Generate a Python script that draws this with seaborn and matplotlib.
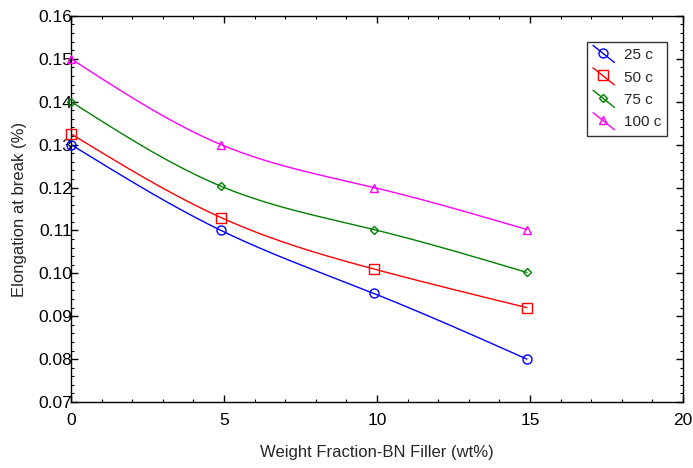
import numpy as np
import pandas as pd
import matplotlib
matplotlib.use("Agg")
import matplotlib.pyplot as plt
from matplotlib.lines import Line2D
from matplotlib.legend_handler import HandlerBase
from matplotlib.ticker import MultipleLocator, FormatStrFormatter
import seaborn as sns

# Elongation at break vs. BN filler loading, for four temperatures
filler_wt = [0, 4.9, 9.9, 14.9]
elong_25c = [0.130, 0.110, 0.0953, 0.080]
elong_50c = [0.1325, 0.113, 0.101, 0.092]
elong_75c = [0.140, 0.1203, 0.1102, 0.1002]
elong_100c = [0.150, 0.130, 0.120, 0.1102]

series_names = ["25 c", "50 c", "75 c", "100 c"]
series_values = [elong_25c, elong_50c, elong_75c, elong_100c]
colors = ["#0000ff", "#ff0000", "#008000", "#ff00ff"]
markers = ["o", "s", "D", "^"]
marker_sizes = [6.5, 7, 4, 6]

x_ticks = [0, 5, 10, 15, 20]
y_ticks = [0.07, 0.08, 0.09, 0.10, 0.11, 0.12, 0.13, 0.14, 0.15, 0.16]


def natural_spline(x, y, n=200):
    """Natural cubic spline through (x, y), evaluated on a fine grid."""
    x = np.asarray(x, float)
    y = np.asarray(y, float)
    k = len(x)
    h = np.diff(x)
    A = np.zeros((k, k))
    b = np.zeros(k)
    A[0, 0] = A[-1, -1] = 1.0
    for i in range(1, k - 1):
        A[i, i - 1] = h[i - 1]
        A[i, i] = 2 * (h[i - 1] + h[i])
        A[i, i + 1] = h[i]
        b[i] = 6 * ((y[i + 1] - y[i]) / h[i] - (y[i] - y[i - 1]) / h[i - 1])
    M = np.linalg.solve(A, b)
    xs = np.linspace(x[0], x[-1], n)
    idx = np.clip(np.searchsorted(x, xs) - 1, 0, k - 2)
    x0, x1 = x[idx], x[idx + 1]
    hh = x1 - x0
    t0, t1 = x1 - xs, xs - x0
    ys = (M[idx] * t0 ** 3 / (6 * hh) + M[idx + 1] * t1 ** 3 / (6 * hh)
          + (y[idx] / hh - M[idx] * hh / 6) * t0
          + (y[idx + 1] / hh - M[idx + 1] * hh / 6) * t1)
    return xs, ys


points = pd.DataFrame(
    [(xv, yv, name) for name, vals in zip(series_names, series_values)
     for xv, yv in zip(filler_wt, vals)],
    columns=["filler", "elongation", "series"],
)
curve_rows = []
for name, vals in zip(series_names, series_values):
    xs, ys = natural_spline(filler_wt, vals)
    curve_rows += [(a, c, name) for a, c in zip(xs, ys)]
curves = pd.DataFrame(curve_rows, columns=["filler", "elongation", "series"])

sns.set_theme(style="white")
plt.rcParams["font.family"] = ["Liberation Sans", "DejaVu Sans"]

fig = plt.figure(figsize=(6.93, 4.68), dpi=100)
ax = fig.add_axes([0.1025, 0.141, 0.883, 0.825])

palette = dict(zip(series_names, colors))
sns.lineplot(data=curves, x="filler", y="elongation", hue="series",
             palette=palette, linewidth=1.0, legend=False, ax=ax,
             estimator=None, sort=False, zorder=2)
for name, col, mk, ms in zip(series_names, colors, markers, marker_sizes):
    sub = points[points["series"] == name]
    ax.plot(sub["filler"], sub["elongation"], linestyle="none", marker=mk,
            markersize=ms, markerfacecolor="none", markeredgecolor=col,
            markeredgewidth=1.0, zorder=3, clip_on=False)

ax.set_xlim(0, 20)
ax.set_ylim(0.07, 0.16)
ax.set_xticks(x_ticks)
ax.set_yticks(y_ticks)
ax.yaxis.set_major_formatter(FormatStrFormatter("%.2f"))
ax.xaxis.set_minor_locator(MultipleLocator(1))
ax.yaxis.set_minor_locator(MultipleLocator(0.002))
ax.tick_params(which="both", direction="in", top=True, right=True,
               bottom=True, left=True, colors="black", labelsize=12.5)
ax.tick_params(which="major", length=5, width=1.0)
ax.tick_params(which="minor", length=2.5, width=0.8)
ax.tick_params(axis="x", pad=8)
ax.tick_params(axis="y", pad=-1)
for sp in ax.spines.values():
    sp.set_visible(True)
    sp.set_color("black")
    sp.set_linewidth(1.0)

ax.set_xlabel("Weight Fraction-BN Filler (wt%)", fontsize=12, labelpad=12)
ax.set_ylabel("Elongation at break (%)", fontsize=12, labelpad=8)


class DiagonalHandler(HandlerBase):
    """Legend key: a diagonal line segment with the marker near its centre."""

    def create_artists(self, legend, orig_handle, xdescent, ydescent,
                       width, height, fontsize, trans):
        x0, x1 = -xdescent, -xdescent + width
        y0, y1 = -ydescent + height * 1.3, -ydescent - height * 0.3
        line = Line2D([x0, x1], [y0, y1], color=orig_handle.get_color(),
                      linewidth=1.0, transform=trans)
        mark = Line2D([x0 + width * 0.45], [y0 + (y1 - y0) * 0.45],
                      linestyle="none",
                      marker=orig_handle.get_marker(),
                      markersize=orig_handle.get_markersize(),
                      markerfacecolor="none",
                      markeredgecolor=orig_handle.get_color(),
                      markeredgewidth=1.0, transform=trans)
        return [line, mark]


handles = [Line2D([], [], color=c, marker=m, markersize=ms)
           for c, m, ms in zip(colors, markers, marker_sizes)]
leg = ax.legend(handles, series_names, loc="upper left",
                bbox_to_anchor=(0.843, 0.932),
                handler_map={Line2D: DiagonalHandler()},
                prop={"size": 11},
                frameon=True, fancybox=False,
                edgecolor="black", handlelength=1.4, handletextpad=0.6,
                labelspacing=0.55, borderpad=0.4, borderaxespad=0)
leg.get_frame().set_linewidth(1.0)

fig.savefig("out.png", dpi=100, facecolor="white")
